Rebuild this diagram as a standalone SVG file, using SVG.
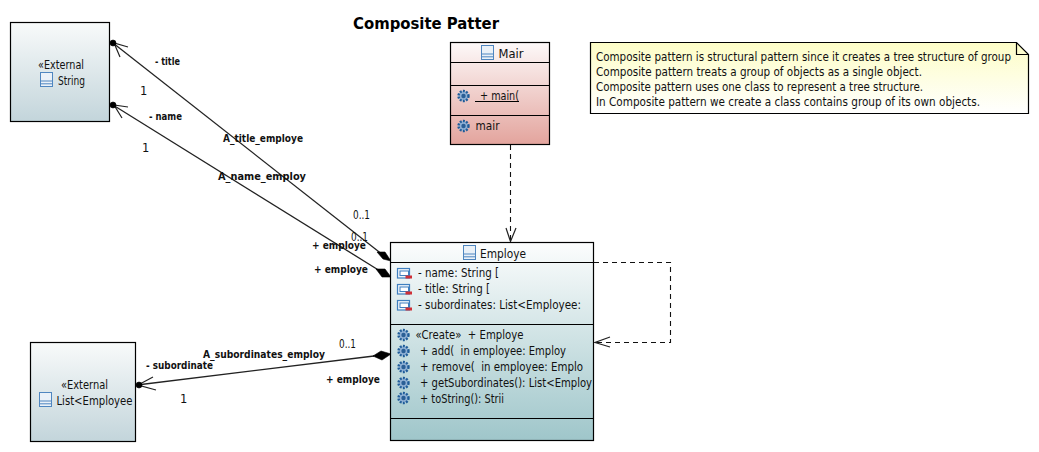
<svg xmlns="http://www.w3.org/2000/svg" width="1039" height="452" viewBox="0 0 1039 452">
<style>
text{font-family:"DejaVu Sans","Noto Sans",sans-serif;font-size:11.5px;fill:#111;white-space:pre}
.b{font-weight:bold;font-size:11px}
.t{font-weight:bold;font-size:16.500px;fill:#000}
.box{stroke:#000;stroke-width:1.200}
.sep{stroke:#000;stroke-width:1.200;fill:none}
.line{stroke:#222;stroke-width:1.300;fill:none}
.dash{stroke:#111;stroke-width:1.100;fill:none;stroke-dasharray:5 4}
.open{stroke:#222;stroke-width:1.200;fill:none}
.dot,.dia{fill:#000;stroke:#000;stroke-width:.6}
</style>
<defs>
<linearGradient id="gExt" x1="0" y1="0" x2="0" y2="1"><stop offset="0" stop-color="#f8fafa"/><stop offset="1" stop-color="#c3d5db"/></linearGradient>
<linearGradient id="gEmp" x1="0" y1="0" x2="0" y2="1"><stop offset="0" stop-color="#fcfdfd"/><stop offset="1" stop-color="#9fc6ca"/></linearGradient>
<linearGradient id="gMain" x1="0" y1="0" x2="0" y2="1"><stop offset="0" stop-color="#fdf9f9"/><stop offset="1" stop-color="#e3a49d"/></linearGradient>
<linearGradient id="gNote" x1="0" y1="0" x2="0" y2="1"><stop offset="0" stop-color="#fdfdc6"/><stop offset="1" stop-color="#ffffff"/></linearGradient>
<g id="cls"><rect x=".5" y=".5" width="12" height="14" fill="#eaf1f8" stroke="#4f86c0"/><path d="M.5 9H12.500M.5 11.800H12.500" stroke="#4f86c0" fill="none"/></g>
<g id="gear"><circle r="5" fill="#8fb0d4" stroke="#1f5c99" stroke-width="2.400" stroke-dasharray="1.900 1.300"/><circle r="2.200" fill="#2a5f96"/></g>
<g id="prop"><rect x=".5" y=".5" width="12" height="9.500" fill="#eef4fa" stroke="#3f7fbf" stroke-width="1.200"/><rect x="3" y="3" width="8.500" height="4.500" fill="#fff" stroke="#3f7fbf"/><rect x="8.500" y="7.500" width="6.500" height="3" fill="#cf2f36"/></g>
</defs>

<text class="t" x="353" y="29" textLength="146" lengthAdjust="spacingAndGlyphs">Composite Patter</text>

<g id="connectors">
<path class="line" d="M113 43L383 255"/>
<path class="open" d="M128 47L114 43L120 57"/>
<circle class="dot" cx="113" cy="43" r="3"/>
<path class="dia" d="M391 261L385 252L377 252L383 259Z"/>
<path class="line" d="M113 105L380 271"/>
<path class="open" d="M128 107L114 105L122 118"/>
<circle class="dot" cx="113" cy="105" r="3"/>
<path class="dia" d="M391 277L385 269L376 269L382 277Z"/>
<path class="line" d="M137 385L374 356"/>
<path class="open" d="M153 377L138 385L156 390"/>
<circle class="dot" cx="139" cy="385" r="3"/>
<path class="dia" d="M391 354L381 351L373 356L382 360Z"/>
<path class="dash" d="M510.500 145V241"/>
<path class="open" d="M506 228L510.500 241.500L516 228"/>
<path class="dash" d="M594 262.500H670.500V342.500H596"/>
<path class="open" d="M610 337L595 342.500L610 347"/>
</g>

<g id="labels">
<text class="b" x="155" y="65" textLength="25" lengthAdjust="spacingAndGlyphs">- title</text>
<text x="140" y="95">1</text>
<text class="b" x="149" y="120" textLength="33" lengthAdjust="spacingAndGlyphs">- name</text>
<text x="142" y="152">1</text>
<text class="b" x="223" y="142" textLength="80" lengthAdjust="spacingAndGlyphs">A_title_employe</text>
<text class="b" x="218" y="180" textLength="88" lengthAdjust="spacingAndGlyphs">A_name_employ</text>
<text x="353" y="219" textLength="17" lengthAdjust="spacingAndGlyphs">0..1</text>
<text x="351" y="241" textLength="17" lengthAdjust="spacingAndGlyphs">0..1</text>
<text class="b" x="312" y="249" textLength="54" lengthAdjust="spacingAndGlyphs">+ employe</text>
<text class="b" x="314" y="273" textLength="54" lengthAdjust="spacingAndGlyphs">+ employe</text>
<text x="339" y="348" textLength="17" lengthAdjust="spacingAndGlyphs">0..1</text>
<text class="b" x="203" y="358" textLength="122" lengthAdjust="spacingAndGlyphs">A_subordinates_employ</text>
<text class="b" x="146" y="369" textLength="67" lengthAdjust="spacingAndGlyphs">- subordinate</text>
<text class="b" x="326" y="383" textLength="54" lengthAdjust="spacingAndGlyphs">+ employe</text>
<text x="180" y="403">1</text>
</g>

<g id="node-string">
<rect class="box" x="10.500" y="22.500" width="99" height="99" fill="url(#gExt)"/>
<text x="38" y="69" textLength="46" lengthAdjust="spacingAndGlyphs">«External</text>
<use href="#cls" x="40" y="72"/>
<text x="58" y="85" textLength="27" lengthAdjust="spacingAndGlyphs">String</text>
</g>

<g id="node-list">
<rect class="box" x="30.500" y="342.500" width="105" height="99" fill="url(#gExt)"/>
<text x="61" y="389" textLength="47" lengthAdjust="spacingAndGlyphs">«External</text>
<use href="#cls" x="39" y="392"/>
<text x="56.500" y="405" textLength="76" lengthAdjust="spacingAndGlyphs">List&lt;Employee</text>
</g>

<g id="node-main">
<rect class="box" x="450.500" y="42.500" width="99" height="102" fill="url(#gMain)"/>
<path class="sep" d="M450.500 62.500H549.500M450.500 85.500H549.500M450.500 115.500H549.500"/>
<use href="#cls" x="481" y="45"/>
<text x="498.500" y="58" textLength="25" lengthAdjust="spacingAndGlyphs">Mair</text>
<use href="#gear" x="463.500" y="96"/>
<text x="480" y="100" textLength="39" lengthAdjust="spacingAndGlyphs">+ main(</text>
<path class="sep" d="M475 101.500H519"/>
<use href="#gear" x="463.500" y="126"/>
<text x="475.500" y="130" textLength="24" lengthAdjust="spacingAndGlyphs">mair</text>
</g>

<g id="node-employee">
<rect class="box" x="390.500" y="242.500" width="203" height="198" fill="url(#gEmp)"/>
<path class="sep" d="M390.500 262.500H593.500M390.500 324.500H593.500M390.500 418.500H593.500"/>
<use href="#cls" x="463" y="245"/>
<text x="480" y="258" textLength="46" lengthAdjust="spacingAndGlyphs">Employe</text>
<use href="#prop" x="397" y="268"/>
<text x="418" y="277" textLength="81" lengthAdjust="spacingAndGlyphs">- name: String [</text>
<use href="#prop" x="397" y="284"/>
<text x="418" y="293" textLength="72" lengthAdjust="spacingAndGlyphs">- title: String [</text>
<use href="#prop" x="397" y="300"/>
<text x="418" y="309" textLength="163" lengthAdjust="spacingAndGlyphs">- subordinates: List&lt;Employee:</text>
<use href="#gear" x="403.500" y="335"/>
<text x="415.500" y="339" textLength="108" lengthAdjust="spacingAndGlyphs">«Create»  + Employe</text>
<use href="#gear" x="403.500" y="351"/>
<text x="420" y="355" textLength="146" lengthAdjust="spacingAndGlyphs">+ add(  in employee: Employ</text>
<use href="#gear" x="403.500" y="367"/>
<text x="420" y="371" textLength="163" lengthAdjust="spacingAndGlyphs">+ remove(  in employee: Emplo</text>
<use href="#gear" x="403.500" y="383"/>
<text x="420" y="387" textLength="172" lengthAdjust="spacingAndGlyphs">+ getSubordinates(): List&lt;Employ</text>
<use href="#gear" x="403.500" y="398"/>
<text x="420" y="403" textLength="84" lengthAdjust="spacingAndGlyphs">+ toString(): Strii</text>
</g>

<g id="node-note">
<path class="box" fill="url(#gNote)" d="M590.500 42.500H1016.500L1028.500 54.500V113.500H590.500Z"/>
<path class="sep" d="M1016.500 42.500V54.500H1028.500"/>
<text x="596" y="61" textLength="415" lengthAdjust="spacingAndGlyphs">Composite pattern is structural pattern since it creates a tree structure of group</text>
<text x="596" y="76" textLength="326" lengthAdjust="spacingAndGlyphs">Composite pattern treats a group of objects as a single object.</text>
<text x="596" y="91" textLength="327" lengthAdjust="spacingAndGlyphs">Composite pattern uses one class to represent a tree structure.</text>
<text x="596" y="106" textLength="384" lengthAdjust="spacingAndGlyphs">In Composite pattern we create a class contains group of its own objects.</text>
</g>
</svg>
